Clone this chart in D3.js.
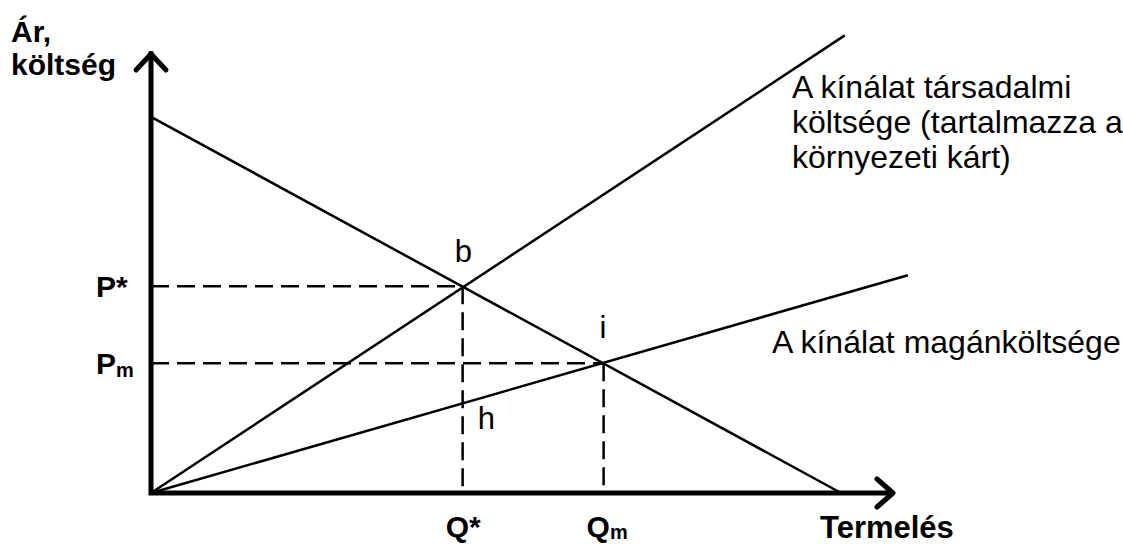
<!DOCTYPE html>
<html>
<head>
<meta charset="utf-8">
<script src="https://cdn.jsdelivr.net/npm/d3@7"></script>
<style>
  body { margin: 0; background: #fff; }
  text { font-family: "Liberation Sans", Arial, sans-serif; fill: #000; }
</style>
</head>
<body>
<script>
// curves, in chart units (quantity 0..100, price 0..100)
var demand = [[0, 85.5], [93, 0]];
var socialSupply = [[0, 0], [93.5, 104]];
var privateSupply = [[0, 0], [102, 49.5]];

// equilibrium values
var qStar = 42, pStar = 47;
var qM = 61, pM = 29.5;

// labels
var yTickLabels = [{v: pStar, t: "P", s: "*"}, {v: pM, t: "P", s: "m"}];
var xTickLabels = [{v: qStar, t: "Q", s: "*"}, {v: qM, t: "Q", s: "m"}];
var socialLabel = ["A kínálat társadalmi", "költsége (tartalmazza a", "környezeti kárt)"];
var privateLabel = "A kínálat magánköltsége";

var width = 1123, height = 544;

var svg = d3.select("body").append("svg")
    .attr("width", width).attr("height", height);

var x = d3.scaleLinear().domain([0, 100]).range([151, 893]);
var y = d3.scaleLinear().domain([0, 100]).range([493, 53]);

var line = d3.line().x(function(d) { return x(d[0]); }).y(function(d) { return y(d[1]); });

// dashed guides
var guides = [
  [[0, pStar], [qStar, pStar]],
  [[qStar, pStar], [qStar, 0]],
  [[0, pM], [qM, pM]],
  [[qM, pM], [qM, 0]]
];
svg.selectAll("path.guide").data(guides).enter().append("path")
    .attr("class", "guide")
    .attr("d", line)
    .attr("fill", "none").attr("stroke", "#000")
    .attr("stroke-width", 2.5).attr("stroke-dasharray", "18,8");

// curves
svg.selectAll("path.curve").data([demand, socialSupply, privateSupply]).enter().append("path")
    .attr("class", "curve")
    .attr("d", line)
    .attr("fill", "none").attr("stroke", "#000").attr("stroke-width", 2.5);

// axes with open arrow heads
svg.append("path")
    .attr("d", line([[0, 100.4], [0, 0], [100, 0]]))
    .attr("fill", "none").attr("stroke", "#000").attr("stroke-width", 5)
    .attr("stroke-linejoin", "miter");
svg.append("path")
    .attr("d", "M" + (x(0) - 15) + "," + (y(100) + 17) + "L" + x(0) + "," + (y(100) + 1) + "L" + (x(0) + 15) + "," + (y(100) + 17))
    .attr("fill", "none").attr("stroke", "#000").attr("stroke-width", 5)
    .attr("stroke-linecap", "round").attr("stroke-linejoin", "round");
svg.append("path")
    .attr("d", "M" + (x(100) - 16) + "," + (y(0) - 14) + "L" + x(100) + "," + y(0) + "L" + (x(100) - 16) + "," + (y(0) + 14))
    .attr("fill", "none").attr("stroke", "#000").attr("stroke-width", 5)
    .attr("stroke-linecap", "round").attr("stroke-linejoin", "round");

// axis titles
svg.append("text").attr("x", 11).attr("y", 42)
    .attr("font-size", 30).attr("font-weight", "bold").text("Ár,");
svg.append("text").attr("x", 11).attr("y", 75)
    .attr("font-size", 30).attr("font-weight", "bold").text("költség");
svg.append("text").attr("x", 820).attr("y", 538)
    .attr("font-size", 31).attr("font-weight", "bold").text("Termelés");

// price labels
var yl = svg.selectAll("text.ylab").data(yTickLabels).enter().append("text")
    .attr("class", "ylab")
    .attr("x", 96).attr("y", function(d) { return y(d.v) + 11; })
    .attr("font-size", 30).attr("font-weight", "bold");
yl.append("tspan").text(function(d) { return d.t; });
yl.append("tspan")
    .attr("font-size", function(d) { return d.s === "m" ? 20 : 30; })
    .attr("dy", function(d) { return d.s === "m" ? 3 : 0; })
    .text(function(d) { return d.s; });

// quantity labels
var xl = svg.selectAll("text.xlab").data(xTickLabels).enter().append("text")
    .attr("class", "xlab")
    .attr("x", function(d) { return x(d.v) - 17; }).attr("y", 537)
    .attr("font-size", 30).attr("font-weight", "bold");
xl.append("tspan").text(function(d) { return d.t; });
xl.append("tspan")
    .attr("font-size", function(d) { return d.s === "m" ? 20 : 30; })
    .attr("dy", function(d) { return d.s === "m" ? 2 : 0; })
    .text(function(d) { return d.s; });

// point labels
svg.append("text").attr("x", x(qStar) - 8).attr("y", y(pStar) - 24).attr("font-size", 31).text("b");
svg.append("text").attr("x", x(qM) - 4).attr("y", y(pM) - 25).attr("font-size", 31).text("i");
svg.append("text").attr("x", x(qStar) + 15).attr("y", y(pStar) + 143).attr("font-size", 31).text("h");

// curve labels
svg.selectAll("text.social").data(socialLabel).enter().append("text")
    .attr("class", "social")
    .attr("x", 792).attr("y", function(d, i) { return 98 + i * 35; })
    .attr("font-size", 32).text(function(d) { return d; });
svg.append("text").attr("x", 772).attr("y", 353).attr("font-size", 32).text(privateLabel);
</script>
</body>
</html>
